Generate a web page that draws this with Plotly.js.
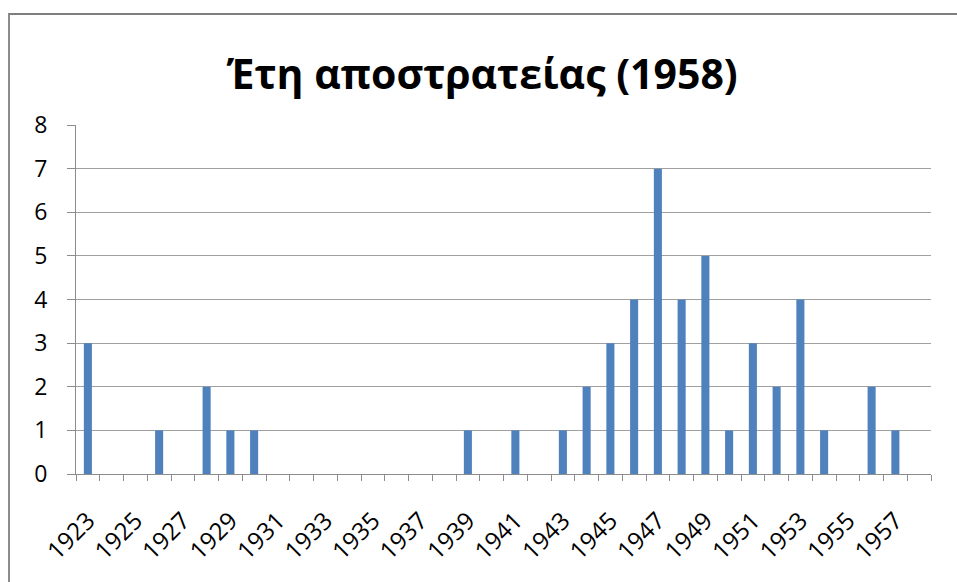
<!DOCTYPE html>
<html>
<head>
<meta charset="utf-8">
<script src="https://cdn.plot.ly/plotly-3.0.1.min.js"></script>
<style>
  html, body { margin: 0; padding: 0; background: #ffffff; overflow: hidden; }
  #wrap { position: relative; width: 957px; height: 582px; }
  #frame { position: absolute; left: 8px; top: 13px; width: 1000px; height: 700px;
           border-top: 2px solid #7f7f7f; border-left: 2px solid #8c8c8c; pointer-events: none; z-index: 5; }
  #chart { position: absolute; left: 0; top: 0; width: 957px; height: 582px; }
</style>
</head>
<body>
<div id="wrap">
  <div id="chart"></div>
  <div id="frame"></div>
</div>
<script>
const years = [1923,1924,1925,1926,1927,1928,1929,1930,1931,1932,1933,1934,1935,1936,1937,1938,
               1939,1940,1941,1942,1943,1944,1945,1946,1947,1948,1949,1950,1951,1952,1953,1954,
               1955,1956,1957,1958];
const counts = [3,0,0,1,0,2,1,1,0,0,0,0,0,0,0,0,
                1,0,1,0,1,2,3,4,7,4,5,1,3,2,4,1,
                0,2,1,0];
const labelYears = [1923,1925,1927,1929,1931,1933,1935,1937,1939,1941,1943,1945,1947,1949,1951,1953,1955,1957];
const yTicks = [0,1,2,3,4,5,6,7,8];
const titleText = "Έτη αποστρατείας (1958)";

const font = "Open Sans, Liberation Sans, sans-serif";

const data = [{
  type: "bar",
  x: years,
  y: counts,
  marker: { color: "#4f81bd", line: { width: 0 } },
  hoverinfo: "x+y"
}];

const layout = {
  width: 957,
  height: 582,
  margin: { l: 76, r: 26, t: 125, b: 108 },
  paper_bgcolor: "#ffffff",
  plot_bgcolor: "#ffffff",
  showlegend: false,
  bargap: 0.66,
  title: {
    text: titleText,
    font: { family: font, size: 41, color: "#000000", weight: "bold" },
    x: 0.504, xanchor: "center", xref: "container",
    y: 0.872, yanchor: "middle", yref: "container"
  },
  xaxis: {
    type: "linear",
    range: [years[0] - 0.5, years[years.length - 1] + 0.5],
    tickmode: "array",
    tickvals: labelYears,
    ticktext: labelYears.map(String),
    ticks: "",
    tickangle: -45,
    ticklabelstandoff: 22,
    tickfont: { family: font, size: 24, color: "#000000" },
    showgrid: false,
    zeroline: false,
    showline: true,
    linecolor: "#8c8c8c",
    linewidth: 1,
    minor: {
      tickmode: "linear",
      tick0: years[0] - 0.5,
      dtick: 1,
      ticks: "outside",
      ticklen: 6,
      tickwidth: 1,
      tickcolor: "#8c8c8c",
      showgrid: false
    },
    fixedrange: true
  },
  yaxis: {
    range: [0, 8],
    tickmode: "array",
    tickvals: yTicks,
    ticktext: yTicks.map(String),
    ticks: "outside",
    ticklen: 8,
    tickwidth: 1,
    tickcolor: "#8c8c8c",
    ticklabelstandoff: 15,
    tickfont: { family: font, size: 23, color: "#000000" },
    showgrid: true,
    gridcolor: "#a0a0a0",
    gridwidth: 1,
    zeroline: false,
    showline: true,
    linecolor: "#8c8c8c",
    linewidth: 1,
    fixedrange: true
  }
};

Plotly.newPlot("chart", data, layout, { displayModeBar: false, staticPlot: true });
</script>
</body>
</html>
